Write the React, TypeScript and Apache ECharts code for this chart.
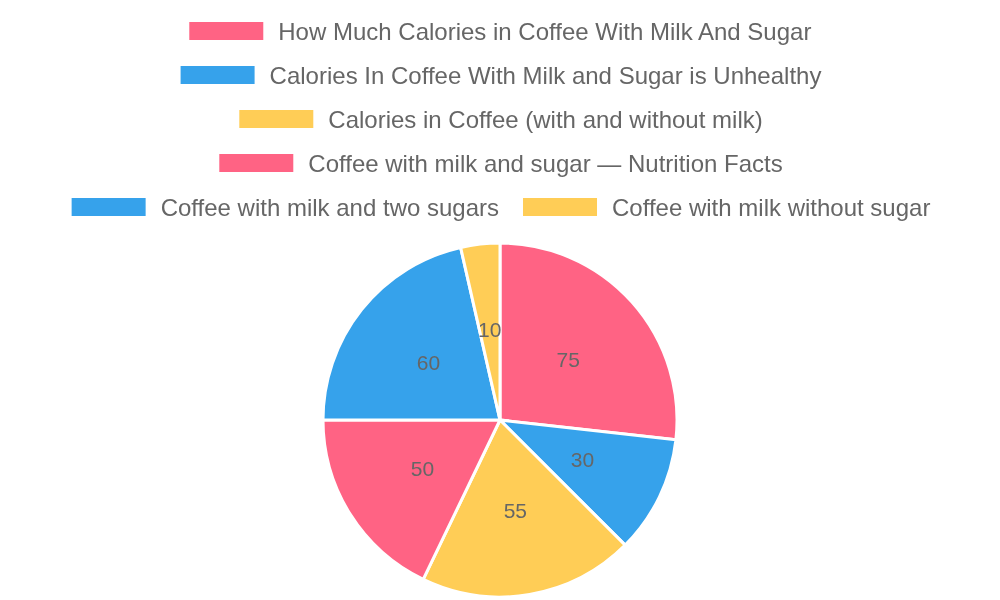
import React, { useEffect, useRef } from "react";
import * as echarts from "echarts";

const categories = [
  "How Much Calories in Coffee With Milk And Sugar",
  "Calories In Coffee With Milk and Sugar is Unhealthy",
  "Calories in Coffee (with and without milk)",
  "Coffee with milk and sugar — Nutrition Facts",
  "Coffee with milk and two sugars",
  "Coffee with milk without sugar",
];
const values = [75, 30, 55, 50, 60, 10];
const colors = ["#ff6384", "#36a2eb", "#ffcd56", "#ff6384", "#36a2eb", "#ffcd56"];
const legendRows = [[0], [1], [2], [3], [4, 5]];

export default function App() {
  const ref = useRef<HTMLDivElement>(null);
  useEffect(() => {
    const chart = echarts.init(ref.current!, null, { renderer: "svg" });
    const font = "'Liberation Sans', Arial, Helvetica, sans-serif";
    chart.setOption({
      animation: false,
      color: colors,
      legend: legendRows.map((row, i) => ({
        data: row.map((k) => categories[k]),
        top: 14 + i * 44,
        left: "center",
        itemWidth: 76,
        itemHeight: 20,
        itemGap: 22,
        icon: "rect",
        selectedMode: false,
        textStyle: { fontSize: 24, color: "#666", fontFamily: font, padding: [0, 0, 0, 9] },
      })),
      series: [
        {
          type: "pie",
          center: [500, 420],
          radius: 177,
          startAngle: 90,
          clockwise: true,
          data: values.map((v, i) => ({ name: categories[i], value: v, itemStyle: { color: colors[i] } })),
          itemStyle: { borderColor: "#fff", borderWidth: 3 },
          label: { show: true, position: "inside", formatter: "{c}", fontSize: 21, color: "#666", fontFamily: font },
          labelLine: { show: false },
          emphasis: { disabled: true },
        },
      ],
    });
    return () => chart.dispose();
  }, []);
  return <div ref={ref} style={{ position: "fixed", left: 0, top: 0, width: 1000, height: 600 }} />;
}
